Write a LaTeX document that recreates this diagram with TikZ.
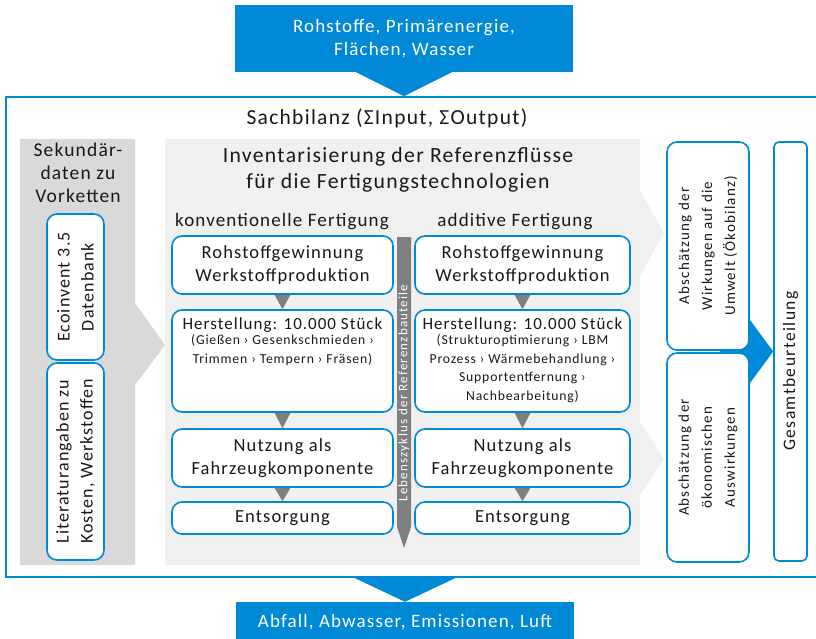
\documentclass[tikz,border=0pt]{standalone}
\usepackage{fontspec}
\setmainfont[LetterSpace=6]{Carlito}
\newfontfamily\lifefont[LetterSpace=9]{Carlito}
\newfontfamily\widefont[LetterSpace=8]{Carlito}
\usepackage{tikz}
\usetikzlibrary{calc}
\definecolor{lcablue}{HTML}{0089D6}
\definecolor{panelgray}{HTML}{D9D9D9}
\definecolor{panellight}{HTML}{F0F0F0}
\definecolor{arrowgray}{HTML}{7F7F7F}

\begin{document}
\begin{tikzpicture}[x=1pt, y=-1pt,
    every node/.style={font=\fontsize{18.5}{23}\selectfont, text=black!90, align=center, inner sep=0pt},
    box/.style={draw=lcablue, line width=1.6pt, rounded corners=10pt, fill=white},
    bluebox/.style={fill=lcablue, text=white, font=\fontsize{19}{23}\selectfont},
    smalltext/.style={font=\fontsize{13.7}{18.5}\selectfont},
    sidetext/.style={font=\widefont\fontsize{15}{23}\selectfont},
    lifetext/.style={font=\lifefont\fontsize{13}{15}\selectfont, text=white}]
    \useasboundingbox (0,0) rectangle (816,639);

    \fill[panellight] (165,139) -- (640,139) -- (640,190) -- (664,233) -- (640,276)
      -- (640,422) -- (664,459) -- (640,495) -- (640,565) -- (165,565) -- cycle;
    \fill[panelgray] (20,139) -- (135,139) -- (135,303) -- (165,345) -- (135,385)
      -- (135,565) -- (20,565) -- cycle;
    \draw[lcablue, line width=2pt] (6,97) rectangle (830,577);

    \node(IN) at (404,38.5) [bluebox, minimum width=338, minimum height=67] {Rohstoffe, Primärenergie,\\Flächen, Wasser};
    \fill[lcablue] ([xshift=-48pt]IN.south) -- ([xshift=48pt]IN.south) -- ([yshift=-24pt]IN.south) -- cycle;
    \node(OUT) at (405,622) [bluebox, minimum width=338, minimum height=40] {Abfall, Abwasser, Emissionen, Luft};
    \fill[lcablue] ([xshift=-53pt, yshift=25pt]OUT.north) -- ([xshift=53pt, yshift=25pt]OUT.north) -- (OUT.north) -- cycle;

    \node(SB) at (387,118) [font=\fontsize{21.5}{26}\selectfont] {Sachbilanz (ΣInput, ΣOutput)};

    \node(SD) at (78,173) [font=\fontsize{19.5}{23}\selectfont] {Sekundär-\\daten zu\\Vorketten};
    \node(EI) at (75.5,287) [box, rotate=90, minimum width=146, minimum height=57, font=\fontsize{18}{24}\selectfont] {Ecoinvent 3.5\\Datenbank};
    \node(LI) at (75.5,461.5) [box, rotate=90, minimum width=197, minimum height=57, font=\fontsize{18}{24}\selectfont] {Literaturangaben zu\\Kosten, Werkstoffen};

    \node(INV) at (398,170) [font=\fontsize{21.7}{26}\selectfont] {Inventarisierung der Referenzflüsse\\für die Fertigungstechnologien};
    \node(KF) at (282,222) [font=\fontsize{19}{23}\selectfont] {konventionelle Fertigung};
    \node(AF) at (515,222) [font=\fontsize{19}{23}\selectfont] {additive Fertigung};

    \fill[arrowgray] (397,237) -- (411,237) -- (411,527) -- (404,548) -- (397,527) -- cycle;
    \node(LZ) at (404,393) [lifetext, rotate=90] {Lebenszyklus der Referenzbauteile};

    \node(RK) at (282.5,265) [box, minimum width=221, minimum height=58] {Rohstoffgewinnung\\Werkstoffproduktion};
    \node(HK) at (282.5,361) [box, minimum width=221, minimum height=102] {};
    \node(HKT) at ([yshift=-8pt]HK.north) [anchor=north, font=\fontsize{17}{23}\selectfont] {Herstellung: 10.000 Stück};
    \node(HKS) at ([yshift=-2pt]HKT.south) [smalltext, anchor=north] {(Gießen › Gesenkschmieden ›\\Trimmen › Tempern › Fräsen)};
    \node(NK) at (282.5,458) [box, minimum width=221, minimum height=58] {Nutzung als\\Fahrzeugkomponente};
    \node(EK) at (282.5,518) [box, minimum width=221, minimum height=32] {Entsorgung};

    \node(RA) at (522.5,265) [box, minimum width=215, minimum height=58] {Rohstoffgewinnung\\Werkstoffproduktion};
    \node(HA) at (522.5,361) [box, minimum width=215, minimum height=102] {};
    \node(HAT) at ([yshift=-8pt]HA.north) [anchor=north, font=\fontsize{17}{23}\selectfont] {Herstellung: 10.000 Stück};
    \node(HAS) at ([yshift=-2pt]HAT.south) [smalltext, anchor=north] {(Strukturoptimierung › LBM\\Prozess › Wärmebehandlung ›\\Supportentfernung ›\\Nachbearbeitung)};
    \node(NA) at (522.5,458) [box, minimum width=215, minimum height=58] {Nutzung als\\Fahrzeugkomponente};
    \node(EA) at (522.5,518) [box, minimum width=215, minimum height=32] {Entsorgung};

    \foreach \a/\b in {RK/HK, HK/NK, NK/EK, RA/HA, HA/NA, NA/EA}
      \fill[arrowgray] ([xshift=-8pt]\a.south) -- ([xshift=8pt]\a.south) -- (\a.south |- \b.north) -- cycle;

    \node(GB) at (790.5,351.5) [box, rounded corners=5pt, rotate=90, minimum width=419, minimum height=33, font=\widefont\fontsize{17.5}{23}\selectfont] {Gesamtbeurteilung\phantom{Gesa}};
    \fill[lcablue] (720,320) -- (750,320) -- (GB.north) -- (750,383) -- (720,383) -- cycle;
    \node(OE) at (708,246) [box, sidetext, rotate=90, minimum width=208, minimum height=82] {Abschätzung der\\Wirkungen auf die\\Umwelt (Ökobilanz)};
    \node(OK) at (708,457.5) [box, sidetext, rotate=90, minimum width=209, minimum height=82] {Abschätzung der\\ökonomischen\\Auswirkungen};
  \end{tikzpicture}
\end{document}
